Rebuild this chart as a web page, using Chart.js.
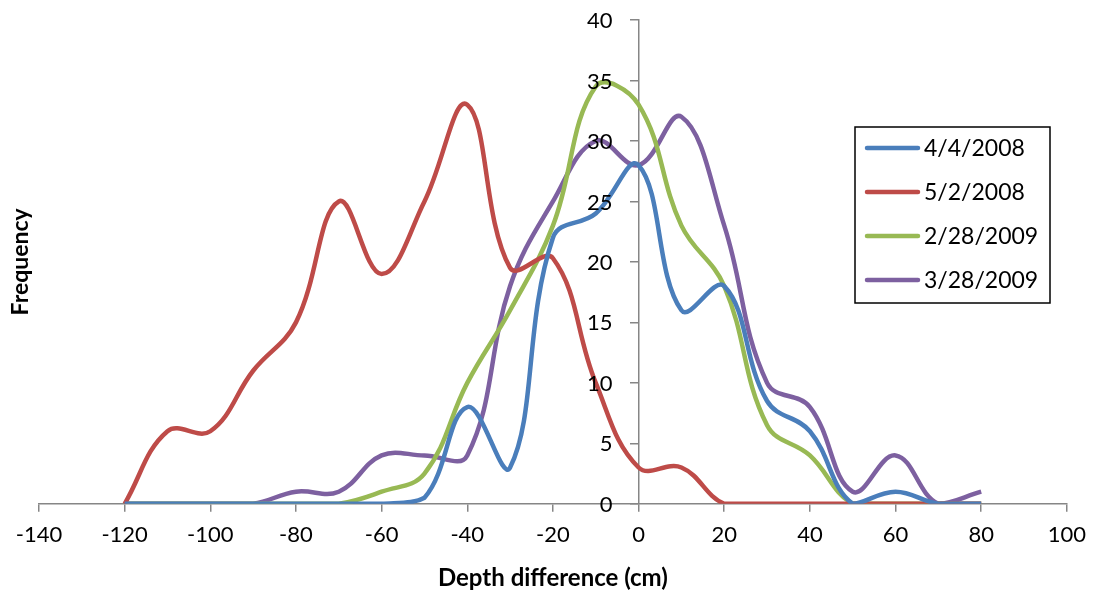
<!DOCTYPE html>
<html>
<head>
<meta charset="utf-8">
<script src="https://cdn.jsdelivr.net/npm/chart.js@4.4.1/dist/chart.umd.min.js"></script>
<style>
  html, body { margin: 0; padding: 0; background: #fff; }
  #wrap { width: 1096px; height: 599px; position: relative; }
</style>
</head>
<body>
<div id="wrap"><canvas id="depth-chart"></canvas></div>
<script>
// depth difference bins (cm) and frequency per survey date
var depths = [-120,-110,-100,-90,-80,-70,-60,-50,-40,-30,-20,-10,0,10,20,30,40,50,60,70,80];
var freq_040408 = [0,0,0,0,0,0,0,0.5,8,3,22,24,28,16,18,8.5,6,0,1,0,0];
var freq_050208 = [0,6,6,11,15,25,19,25,33,19.5,20.3,10,3,3,0,0,0,0,0,0,0];
var freq_022809 = [0,0,0,0,0,0,1,2.5,10,16,23,34.5,33,23,18,6.5,4,0,0,0,0];
var freq_032809 = [0,0,0,0,1,1,4,4,4,18,25,30,28,32,23,10,8,1,4,0,1];
var seriesNames = ['4/4/2008', '5/2/2008', '2/28/2009', '3/28/2009'];
var seriesColors = ['#4A7EBB', '#BE4B48', '#98B954', '#7D60A0'];
var xTicks = [-140, 100, 20];   // min, max, step
var yTicks = [0, 40, 5];

const FONT = 'Lato, "Open Sans", sans-serif';
const AXIS_GREY = '#868686';

function toPoints(vals) {
    var pts = [];
    for (var i = 0; i < depths.length; i++) {
        pts.push({x: depths[i], y: vals[i]});
    }
    return pts;
}

var allSeries = [freq_040408, freq_050208, freq_022809, freq_032809];
var datasets = [];
for (var i = 0; i < allSeries.length; i++) {
    datasets.push({
        label: seriesNames[i],
        data: toPoints(allSeries[i]),
        borderColor: seriesColors[i],
        backgroundColor: seriesColors[i],
        borderWidth: 4.5,
        pointRadius: 0,
        tension: 0.4,
        fill: false
    });
}

// legend box drawn inside the plot, like the excel original
const boxLegend = {
    id: 'boxLegend',
    afterDraw(chart) {
        const c = chart.ctx;
        const left = 855, top = 127, w = 195, h = 176;
        c.save();
        c.strokeStyle = '#000';
        c.lineWidth = 1.5;
        c.fillStyle = '#fff';
        c.fillRect(left, top, w, h);
        c.strokeRect(left, top, w, h);
        c.font = '23px ' + FONT;
        c.textBaseline = 'middle';
        c.lineCap = 'round';
        chart.data.datasets.forEach(function (ds, i) {
            const y = top + 21 + i * 44;
            c.strokeStyle = ds.borderColor;
            c.lineWidth = 4.5;
            c.beginPath();
            c.moveTo(867, y);
            c.lineTo(918, y);
            c.stroke();
            c.fillStyle = '#000';
            c.fillText(ds.label, 924, y + 1);
        });
        c.restore();
    }
};

// y title at the far left, and the y tick labels set off from the crossing axis
const yAxisText = {
    id: 'yAxisText',
    afterDraw(chart) {
        const c = chart.ctx;
        const a = chart.chartArea;
        const ys = chart.scales.y;
        const axisX = chart.scales.x.getPixelForValue(0);
        c.save();
        c.font = '22px ' + FONT;
        c.fillStyle = '#000';
        c.textAlign = 'right';
        c.textBaseline = 'middle';
        ys.ticks.forEach(function (t) {
            c.fillText(String(t.value), axisX - 26, ys.getPixelForValue(t.value) + 1);
        });
        c.translate(21, (a.top + a.bottom) / 2);
        c.rotate(-Math.PI / 2);
        c.font = 'bold 23px ' + FONT;
        c.textAlign = 'center';
        c.fillText('Frequency', 0, 0);
        c.restore();
    }
};

const ctx = document.getElementById('depth-chart').getContext('2d');
var depthChart = new Chart(ctx, {
    type: 'line',
    data: { datasets: datasets },
    plugins: [boxLegend, yAxisText],
    options: {
        responsive: true,
        maintainAspectRatio: false,
        animation: false,
        layout: { padding: { left: 39, right: 26, top: 20, bottom: 6 } },
        plugins: {
            legend: { display: false },
            tooltip: { enabled: false }
        },
        scales: {
            x: {
                type: 'linear',
                position: 'bottom',
                min: xTicks[0],
                max: xTicks[1],
                ticks: {
                    stepSize: xTicks[2],
                    color: '#000',
                    padding: 10,
                    maxRotation: 0,
                    font: { family: FONT, size: 22 }
                },
                grid: { display: true, drawOnChartArea: false, drawTicks: true, tickLength: 8, color: AXIS_GREY, lineWidth: 1.5 },
                border: { display: true, color: AXIS_GREY, width: 1.5 },
                title: {
                    display: true,
                    text: 'Depth difference (cm)',
                    color: '#000',
                    padding: { top: 6, bottom: 0 },
                    font: { family: FONT, size: 24, weight: 'bold' }
                }
            },
            y: {
                position: { x: 0 },
                min: yTicks[0],
                max: yTicks[1],
                ticks: {
                    stepSize: yTicks[2],
                    display: false
                },
                grid: { display: true, drawOnChartArea: false, drawTicks: true, tickLength: 8, color: AXIS_GREY, lineWidth: 1.5 },
                border: { display: true, color: AXIS_GREY, width: 1.5 }
            }
        }
    }
});
</script>
</body>
</html>
